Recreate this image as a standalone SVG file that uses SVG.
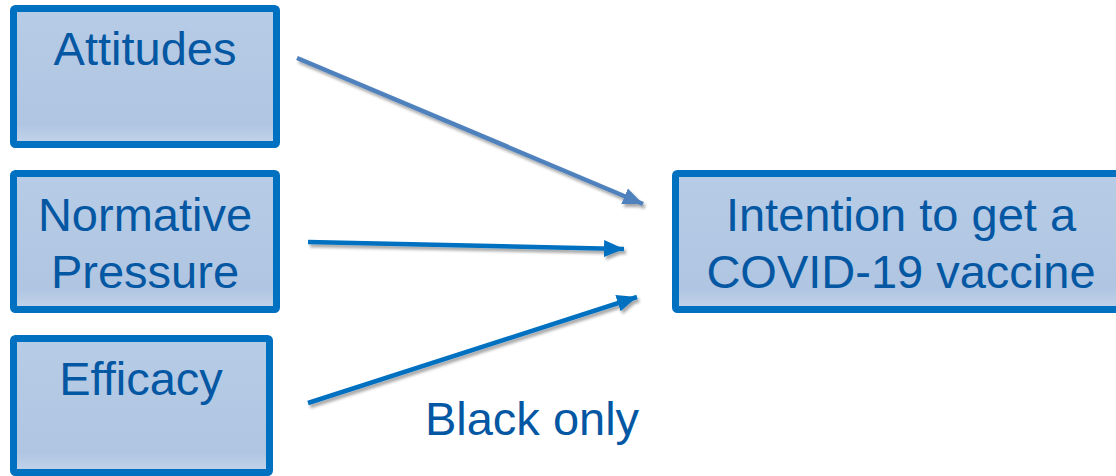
<svg xmlns="http://www.w3.org/2000/svg" width="1116" height="476" viewBox="0 0 1116 476">
  <style>
    .box { stroke: #0070C0; stroke-width: 7; fill: url(#boxFill); }
    .lbl { font-family: "Liberation Sans", Arial, sans-serif; font-size: 47px; fill: #0457A3; text-anchor: middle; }
    .link { fill: none; stroke-width: 4.5; stroke-linecap: butt; filter: url(#shadow); }
    .steel { stroke: #4F81BD; }
    .blue { stroke: #0070C0; }
  </style>
  <defs>
    <linearGradient id="boxFill" x1="0" y1="0" x2="0" y2="1">
      <stop offset="0" stop-color="#B7CCE6"/>
      <stop offset="0.85" stop-color="#AFC5E1"/>
      <stop offset="1" stop-color="#C4D5EB"/>
    </linearGradient>
    <filter id="shadow" filterUnits="userSpaceOnUse" x="0" y="0" width="1116" height="476">
      <feGaussianBlur in="SourceAlpha" stdDeviation="1.5"/>
      <feOffset dx="1.5" dy="2.5" result="b"/>
      <feComponentTransfer><feFuncA type="linear" slope="0.35"/></feComponentTransfer>
      <feMerge><feMergeNode/><feMergeNode in="SourceGraphic"/></feMerge>
    </filter>
    <marker id="headSteel" markerUnits="userSpaceOnUse" markerWidth="22" markerHeight="22" viewBox="0 0 22 22" refX="20" refY="11" orient="auto">
      <path d="M0,2.5 L20,11 L0,19.5 Z" fill="#4F81BD"/>
    </marker>
    <marker id="headBlue" markerUnits="userSpaceOnUse" markerWidth="22" markerHeight="22" viewBox="0 0 22 22" refX="20" refY="11" orient="auto">
      <path d="M0,2.5 L20,11 L0,19.5 Z" fill="#0070C0"/>
    </marker>
  </defs>

  <rect width="1116" height="476" fill="#FFFFFF"/>

  <g id="connectors">
    <path class="link steel" d="M297,58 L643,204" marker-end="url(#headSteel)"/>
    <path class="link blue" d="M308,242 L624,249" marker-end="url(#headBlue)"/>
    <path class="link blue" d="M308,403 L637,297" marker-end="url(#headBlue)"/>
  </g>

  <g id="attitudes">
    <rect class="box" x="13.5" y="8.5" width="263" height="136" rx="2"/>
    <text class="lbl" x="145" y="65">Attitudes</text>
  </g>

  <g id="normative-pressure">
    <rect class="box" x="13.5" y="173.5" width="263" height="136" rx="2"/>
    <text class="lbl" x="145" y="231">Normative</text>
    <text class="lbl" x="145" y="288">Pressure</text>
  </g>

  <g id="efficacy">
    <rect class="box" x="13.5" y="338.5" width="256" height="134" rx="2"/>
    <text class="lbl" x="141" y="395">Efficacy</text>
  </g>

  <g id="intention">
    <rect class="box" x="675.5" y="173.5" width="460" height="136" rx="2"/>
    <text class="lbl" x="901" y="231">Intention to get a</text>
    <text class="lbl" x="901" y="288">COVID-19 vaccine</text>
  </g>

  <g id="note">
    <text class="lbl" x="532" y="435">Black only</text>
  </g>
</svg>
